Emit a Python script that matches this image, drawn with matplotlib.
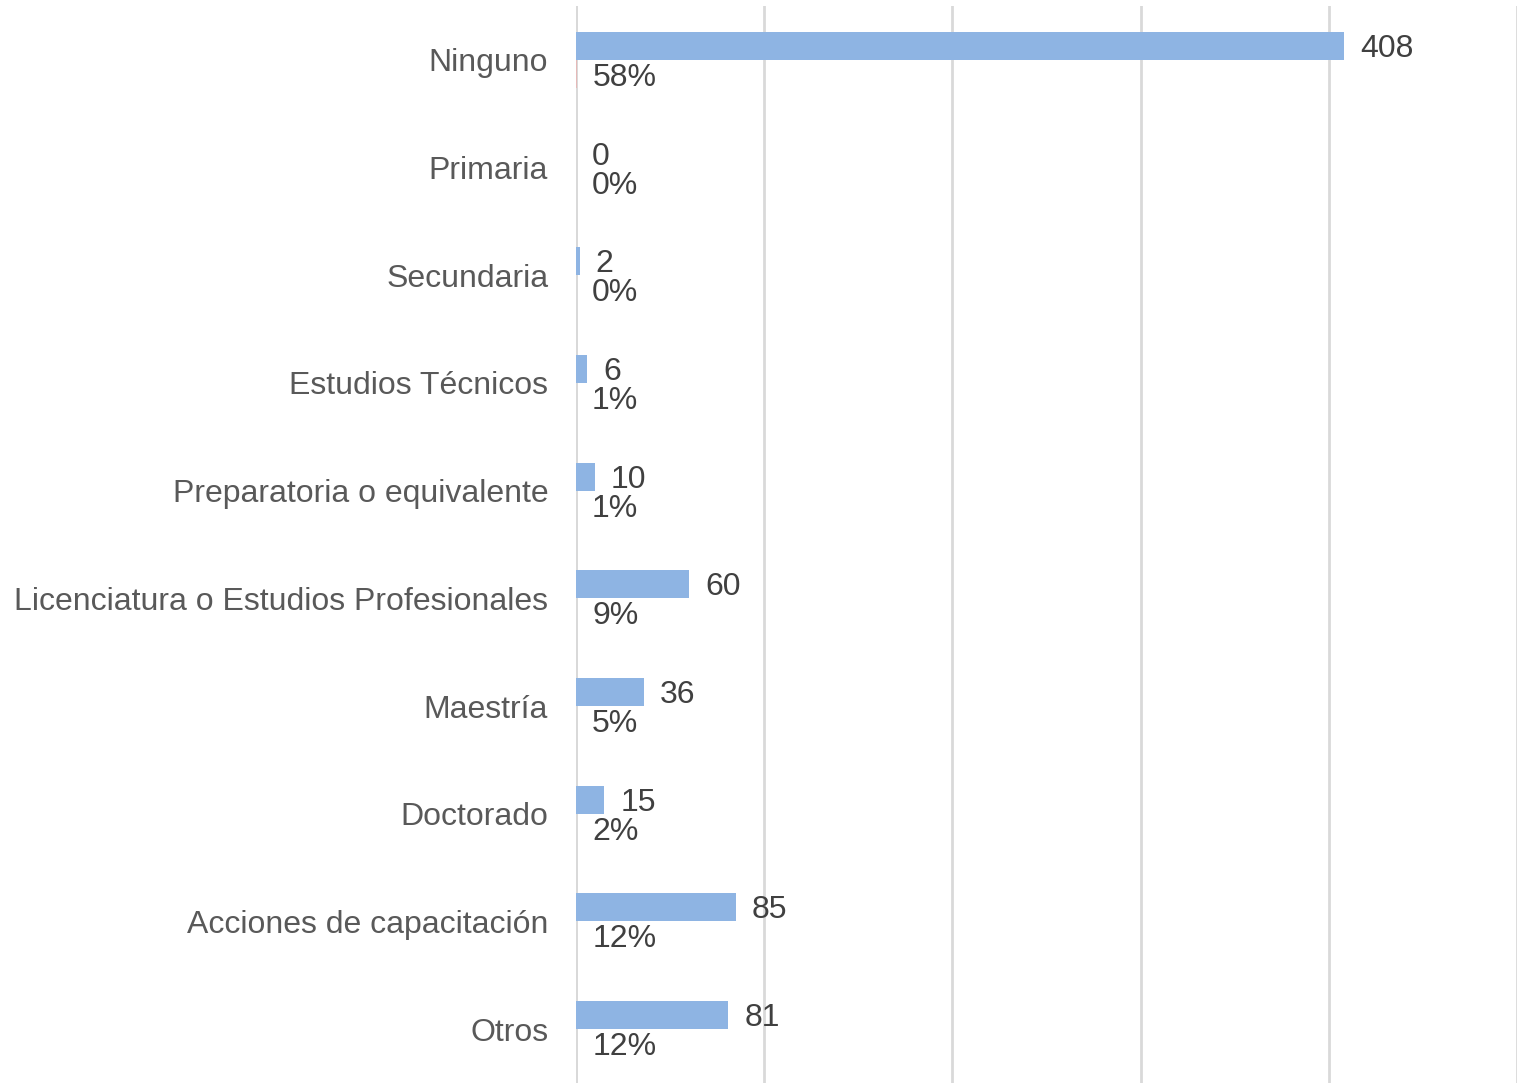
import numpy as np
import matplotlib
matplotlib.use("Agg")
import matplotlib.pyplot as plt

plt.rcParams['font.family'] = ['Liberation Sans', 'DejaVu Sans']

categories = ["Ninguno", "Primaria", "Secundaria", "Estudios Técnicos",
              "Preparatoria o equivalente", "Licenciatura o Estudios Profesionales",
              "Maestría", "Doctorado", "Acciones de capacitación", "Otros"]
counts = [408, 0, 2, 6, 10, 60, 36, 15, 85, 81]
percents = [58, 0, 0, 1, 1, 9, 5, 2, 12, 12]

fig = plt.figure(figsize=(15.2, 10.83), dpi=100)
ax = fig.add_axes([576 / 1520, 0, (1517 - 576) / 1520, 1 - 6 / 1083])

y = np.arange(len(categories))
h = 0.26
ax.barh(y - h / 2, counts, height=h, color="#8EB4E3", zorder=3)
ax.barh(y + h / 2, [p / 100 for p in percents], height=h, color="#E6B9B8", zorder=3)

for yi, c, p in zip(y, counts, percents):
    ax.annotate(str(c), (c, yi - h / 2), xytext=(16, -3), textcoords="offset pixels",
                va="center", ha="left", fontsize=23, color="#404040")
    ax.annotate(f"{p}%", (p / 100, yi + h / 2), xytext=(16, -4), textcoords="offset pixels",
                va="center", ha="left", fontsize=23, color="#404040")

ax.set_xlim(0, 500)
ax.set_ylim(len(categories) - 0.5, -0.5)
ax.set_xticks(np.arange(0, 501, 100))
ax.set_xticklabels([])
ax.tick_params(axis="x", length=0)
ax.set_yticks(y)
ax.set_yticklabels(categories, fontsize=23, color="#595959")
ax.tick_params(axis="y", length=0, pad=20)
ax.grid(axis="x", color="#D9D9D9", linewidth=2, zorder=0)
for s in ax.spines.values():
    s.set_visible(False)
ax.axvline(0, color="#D9D9D9", linewidth=2, zorder=2)

fig.savefig("out.png", dpi=100)
